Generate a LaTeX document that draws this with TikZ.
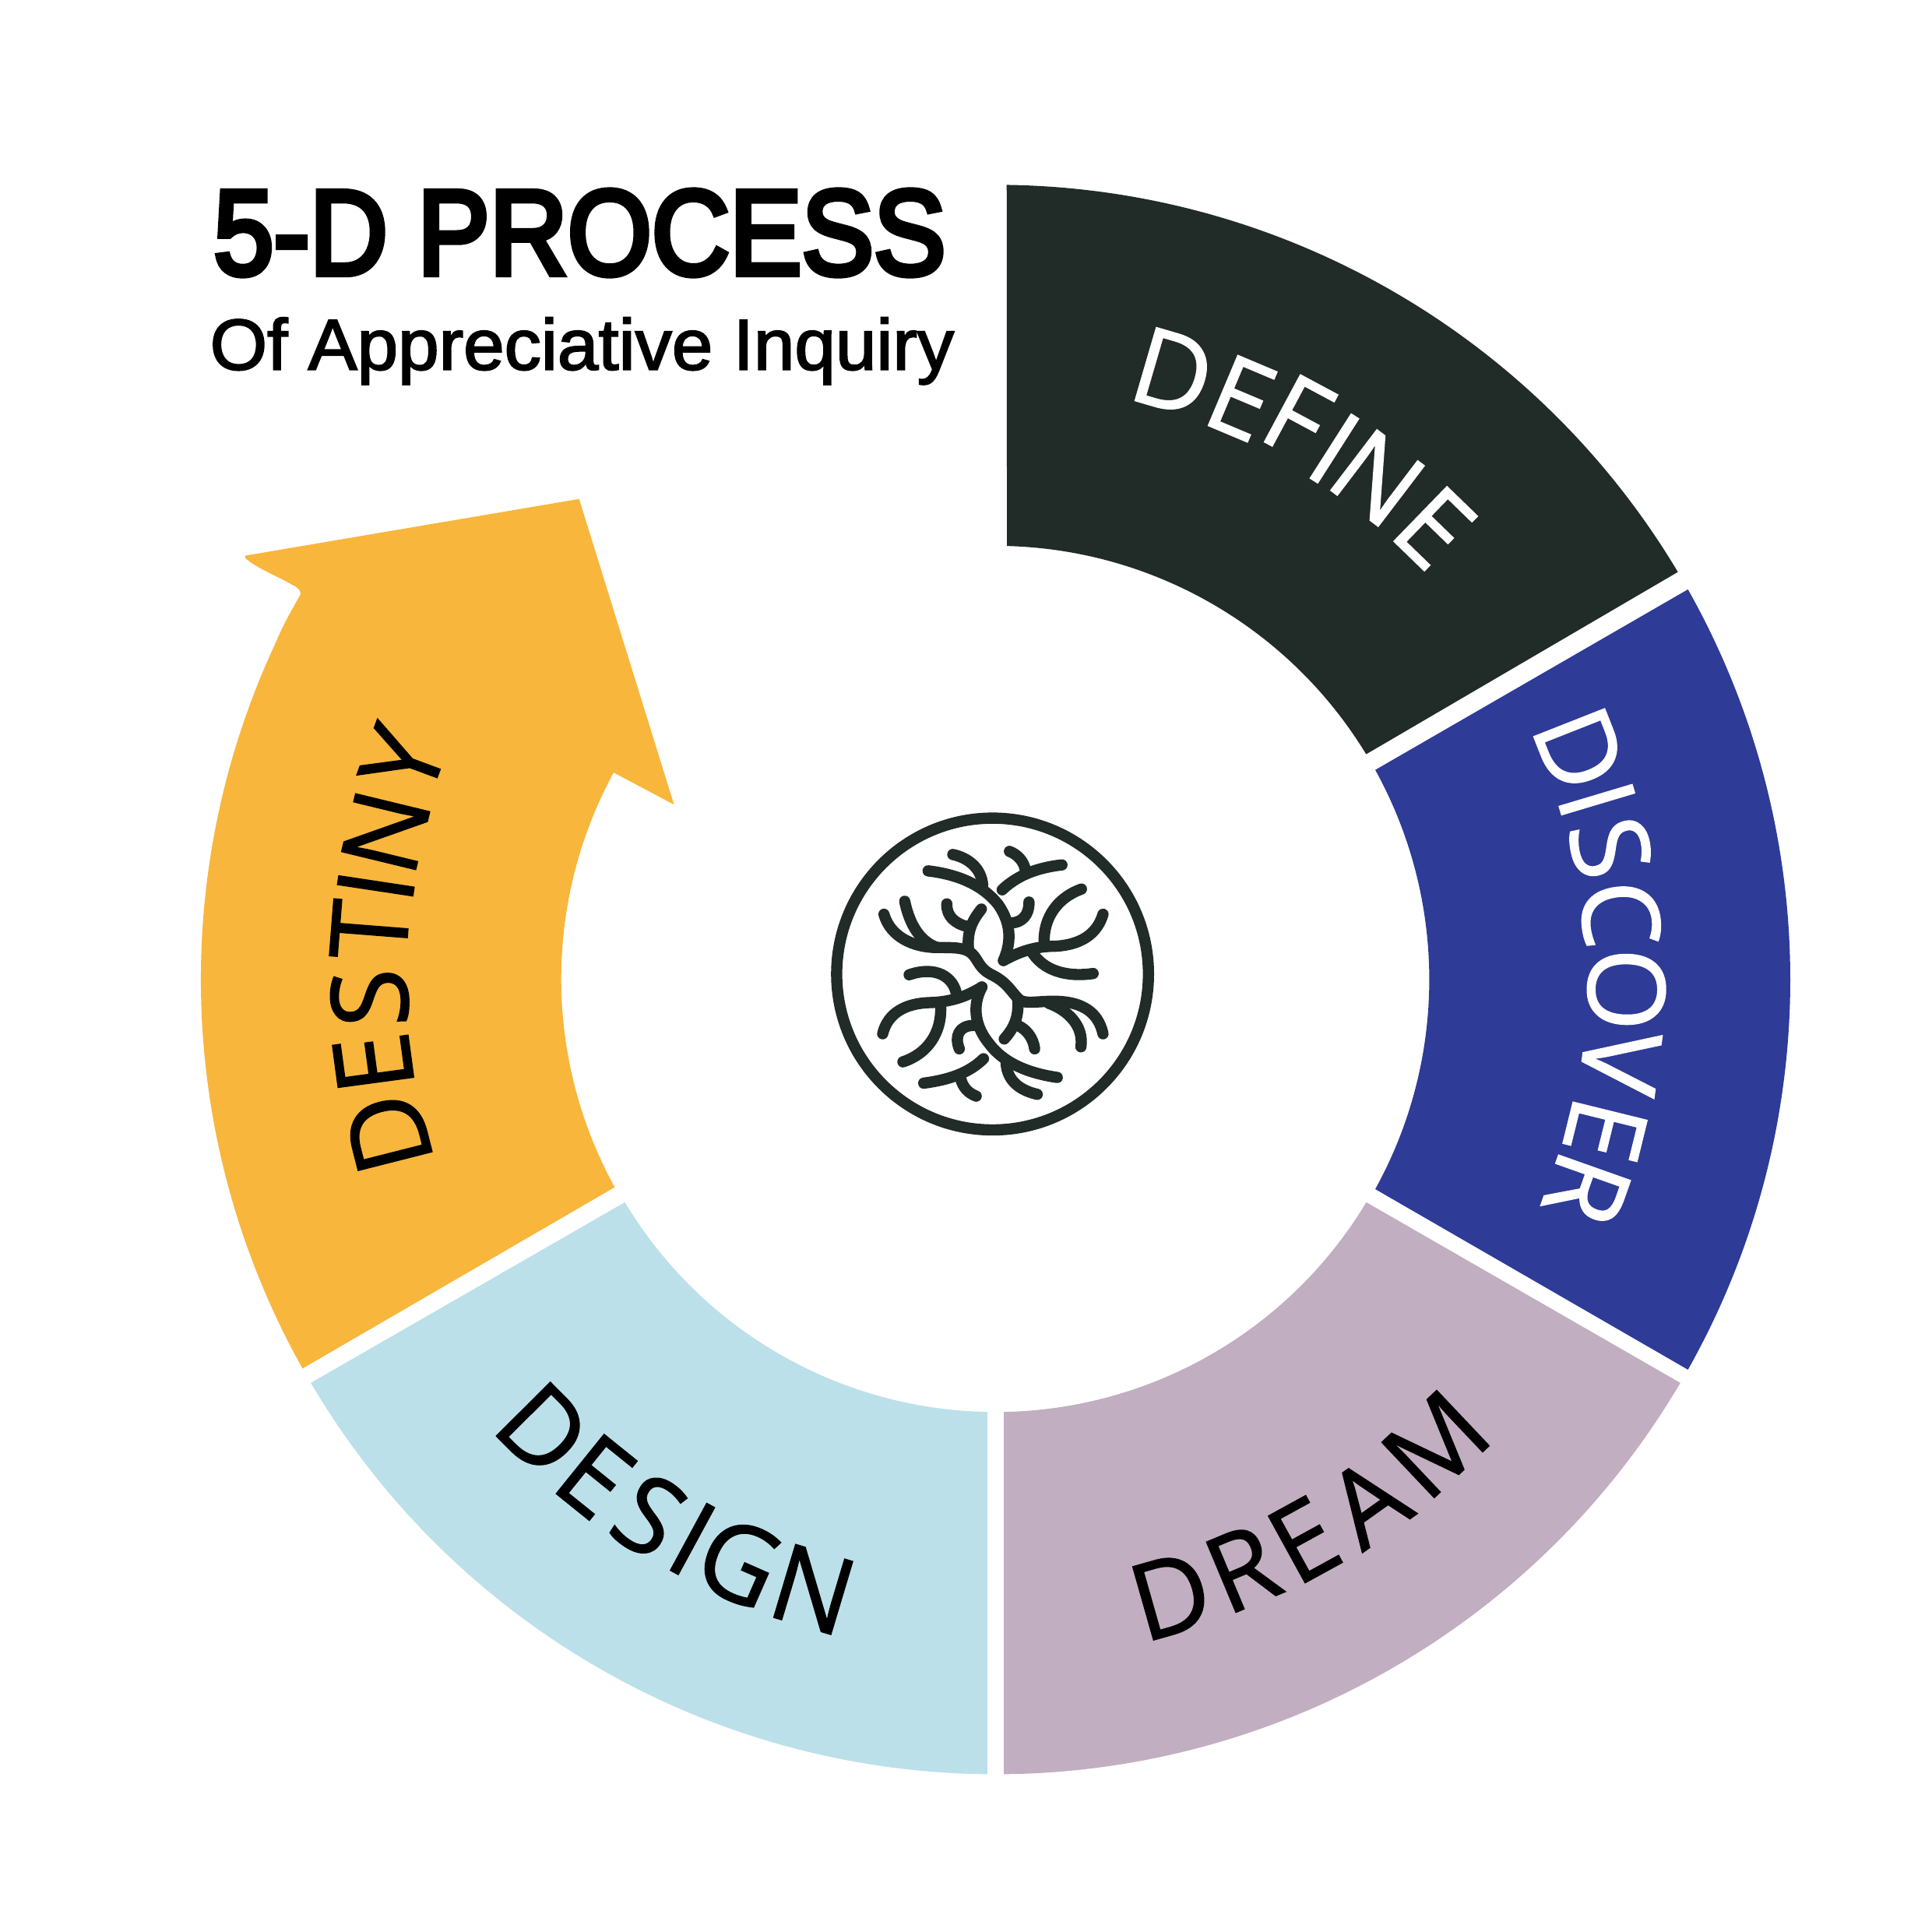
\documentclass[tikz,border=0pt]{standalone}
\usepackage{fontspec}
\setmainfont{Liberation Sans}
\newfontfamily\letterfont[FakeBold=1.1]{Open Sans}
\usetikzlibrary{calc}
\definecolor{defineC}{HTML}{212B27}
\definecolor{discoverC}{HTML}{2E3B97}
\definecolor{dreamC}{HTML}{C2AEC1}
\definecolor{designC}{HTML}{BCE0EA}
\definecolor{destinyC}{HTML}{F8B63C}
\tikzset{
  letterdark/.style={inner sep=0pt,text=black,font=\letterfont\fontsize{39}{39}\selectfont},
  letterlight/.style={inner sep=0pt,text=white,font=\letterfont\fontsize{39}{39}\selectfont},
  logoline/.style={draw=defineC,line width=4.1pt,line cap=round,line join=round}
}
\begin{document}
\begin{tikzpicture}[x=0.015823cm,y=0.015823cm]
\useasboundingbox (0,0) rectangle (1568,1568);
\fill[white] (0,0) rectangle (1568,1568);
\coordinate (c) at (808,773);
% segments
\fill[defineC] ($(c)+(89.2:645)$) arc[start angle=89.2,end angle=30.85,radius=645]
  -- ($(c)+(31.3:352)$) arc[start angle=31.3,end angle=88.5,radius=352] -- cycle;
\fill[discoverC] ($(c)+(29.4:645)$) arc[start angle=29.4,end angle=-29.4,radius=645]
  -- ($(c)+(-28.9:352)$) arc[start angle=-28.9,end angle=28.9,radius=352] -- cycle;
\fill[dreamC] ($(c)+(-30.5:645)$) arc[start angle=-30.5,end angle=-89.4,radius=645]
  -- ($(c)+(-88.9:351)$) arc[start angle=-88.9,end angle=-31,radius=351] -- cycle;
\fill[designC] ($(c)+(-90.6:645)$) arc[start angle=-90.6,end angle=-149.5,radius=645]
  -- ($(c)+(-149:351)$) arc[start angle=-149,end angle=-91.1,radius=351] -- cycle;
\fill[destinyC] ($(c)+(209.3:645)$) arc[start angle=209.3,end angle=155,radius=645]
  .. controls (232,1066) and (240,1078) .. (244,1086)
  .. controls (244,1090) and (240,1092) .. (236,1094)
  .. controls (222,1102) and (210,1106) .. (199,1115)
  -- (199,1117) -- (470,1163) -- (547,915) -- (498,941)
  arc[start angle=151.5,end angle=208.8,radius=351] -- cycle;
% titles
\node[inner sep=0pt,anchor=west,xscale=.897] (title) at (173,1379)
  {\fontsize{44}{44}\selectfont\addfontfeature{FakeBold=5}5-D PROCESS};
\node[inner sep=0pt,anchor=base west,xscale=1.022] (subtitle) at (170,1268)
  {\fontsize{26.3}{26.3}\selectfont\addfontfeature{FakeBold=2.2}Of Appreciative Inquiry};
% curved labels
\foreach \L/\x/\y [count=\i] in {D/952/302,E/1007/323,F/1053/338,I/1083/364,N/1118/388,E/1164/428}{
  \pgfmathsetmacro\a{atan2(795-\y,\x-808)-90}
  \node[letterlight,rotate=\a] (define\i) at (\x,{1568-\y}) {\L};}
\foreach \L/\x/\y [count=\i] in {D/1282/608,I/1296/649,S/1307/688,C/1315/742,O/1320/803,V/1315/862,E/1303/917,R/1288/965}{
  \pgfmathsetmacro\a{atan2(795-\y,\x-808)-90}
  \node[letterlight,rotate=\a] (discover\i) at (\x,{1568-\y}) {\L};}
\foreach \L/\x/\y [count=\i] in {D/950/1295,R/1008/1273,E/1058/1250,A/1110/1219,M/1165/1172}{
  \pgfmathsetmacro\a{atan2(795-\y,\x-808)+90}
  \node[letterdark,rotate=\a] (dream\i) at (\x,{1568-\y}) {\L};}
\foreach \L/\x/\y [count=\i] in {D/441/1160,E/483/1198,S/527/1230,I/562/1249,G/600/1268,N/660/1290}{
  \pgfmathsetmacro\a{atan2(795-\y,\x-808)+90}
  \node[letterdark,rotate=\a] (design\i) at (\x,{1568-\y}) {\L};}
\foreach \L/\x/\y [count=\i] in {D/315/920,E/303/863,S/300/810,T/300/755,I/305/719,N/313/675,Y/327/617}{
  \pgfmathsetmacro\a{atan2(795-\y,\x-808)-90}
  \node[letterdark,rotate=\a] (destiny\i) at (\x,{1568-\y}) {\L};}
% central logo (coordinates of a 3x crop)
\begin{scope}[shift={(657.3,923.4)},x=0.0052747cm*0.63213,y=-0.0052747cm*0.63213]
\draw[logoline] (703,692) circle[radius=600];
\draw[logoline] (455,295) .. controls (580,310) and (670,355) .. (725,425) .. controls (770,490) and (780,560) .. (745,640);
\draw[logoline] (745,640) .. controls (800,610) and (860,585) .. (945,585) .. controls (1040,580) and (1105,540) .. (1128,462);
\draw[logoline] (902,580) .. controls (895,470) and (960,395) .. (1045,365);
\draw[logoline] (850,600) .. controls (895,680) and (990,705) .. (1090,690);
\draw[logoline] (775,495) .. controls (815,495) and (845,465) .. (843,415);
\draw[logoline] (665,350) .. controls (660,285) and (610,245) .. (550,232);
\draw[logoline] (740,368) .. controls (800,310) and (880,282) .. (970,272);
\draw[logoline] (830,295) .. controls (825,260) and (800,232) .. (768,220);
\draw[logoline] (285,462) .. controls (310,550) and (400,590) .. (490,590) .. controls (560,590) and (600,590) .. (625,615) .. controls (650,640) and (650,670) .. (700,695) .. controls (760,725) and (770,755) .. (805,790) .. controls (830,810) and (880,795) .. (950,797) .. controls (1050,800) and (1110,840) .. (1128,922);
\draw[logoline] (365,412) .. controls (385,510) and (430,570) .. (490,590);
\draw[logoline] (610,590) .. controls (605,520) and (630,480) .. (660,442);
\draw[logoline] (610,510) .. controls (560,500) and (525,470) .. (527,422);
\draw[logoline] (280,922) .. controls (300,840) and (370,805) .. (460,802) .. controls (540,800) and (600,780) .. (662,742);
\draw[logoline] (662,742) .. controls (620,820) and (640,900) .. (690,960) .. controls (750,1040) and (850,1075) .. (952,1090);
\draw[logoline] (565,775) .. controls (555,700) and (480,660) .. (382,695);
\draw[logoline] (503,810) .. controls (510,920) and (450,1000) .. (358,1030);
\draw[logoline] (630,890) .. controls (575,890) and (555,930) .. (575,980);
\draw[logoline] (755,1035) .. controls (760,1105) and (810,1140) .. (875,1155);
\draw[logoline] (668,1018) .. controls (610,1075) and (530,1100) .. (438,1112);
\draw[logoline] (580,1095) .. controls (590,1130) and (610,1150) .. (640,1162);
\draw[logoline] (800,790) .. controls (805,860) and (785,900) .. (748,942);
\draw[logoline] (800,890) .. controls (835,905) and (860,940) .. (865,980);
\draw[logoline] (920,805) .. controls (990,830) and (1055,890) .. (1043,972);
\end{scope}
\end{tikzpicture}
\end{document}
